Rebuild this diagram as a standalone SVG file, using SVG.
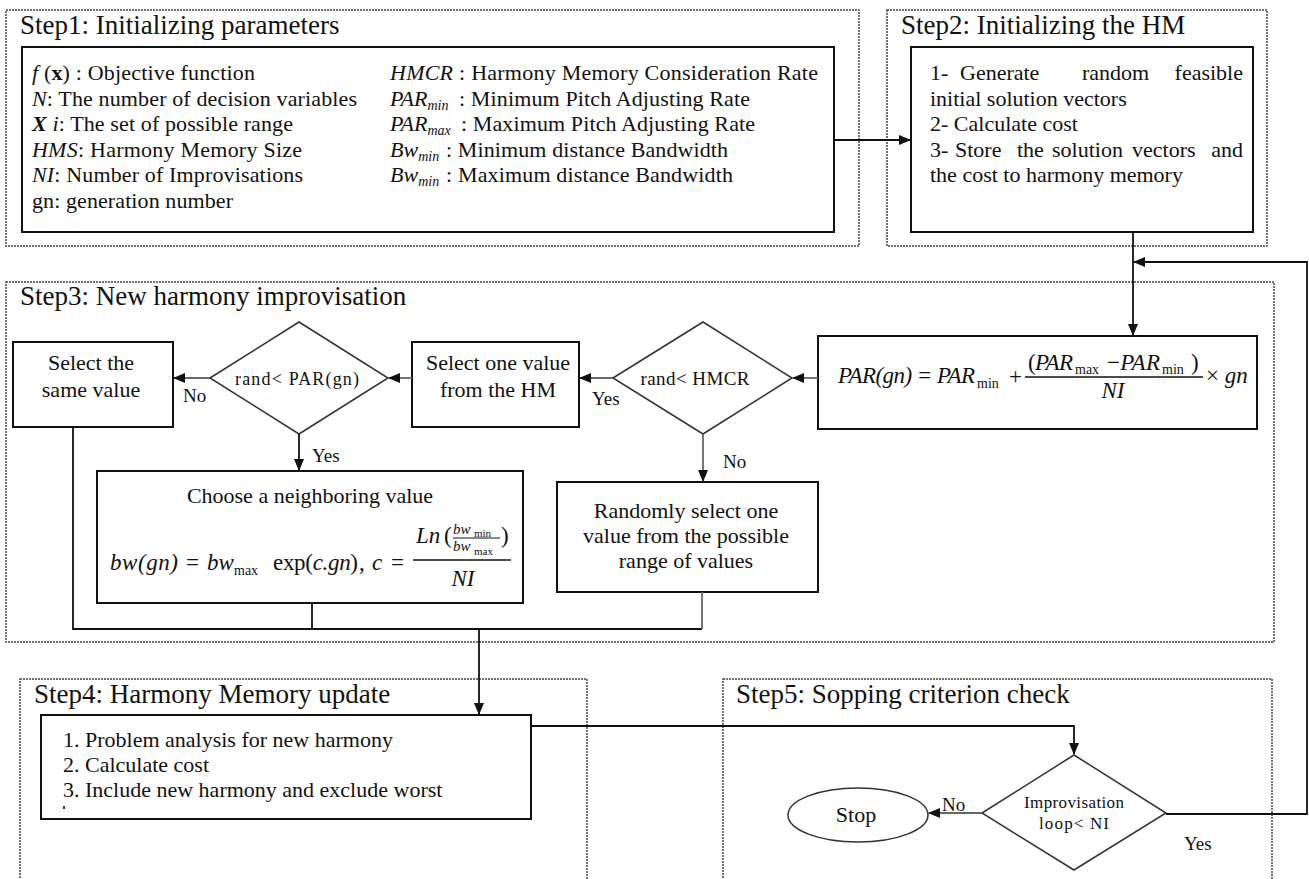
<svg xmlns="http://www.w3.org/2000/svg" width="1309" height="879" viewBox="0 0 1309 879">
<defs>
<style>
text{font-family:"Liberation Serif","Times New Roman",serif;fill:#111}
.title{font-size:27px}
.body{font-size:22px}
.lbl{font-size:19px}
.it{font-style:italic}
.sub{font-size:14px}
.frame{fill:none;stroke:#444;stroke-width:1.5;stroke-dasharray:2 1}
.box{fill:#fff;stroke:#111;stroke-width:2}
.dia{fill:#fff;stroke:#333;stroke-width:1.5}
.conn{fill:none;stroke:#111;stroke-width:1.8}
.gray{stroke:#666}
.c{text-anchor:middle}
</style>
<marker id="ah" markerWidth="12" markerHeight="10" refX="11" refY="5" orient="auto" markerUnits="userSpaceOnUse">
<path d="M0,0 L12,5 L0,10 z" fill="#111"/>
</marker>
</defs>
<rect width="1309" height="879" fill="#fff"/>

<g id="step1">
<rect class="frame" x="6" y="10" width="853" height="236"/>
<text class="title" x="20" y="34">Step1: Initializing parameters</text>
<rect class="box" x="22" y="47" width="812" height="185"/>
<g class="body">
<text x="32" y="80" textLength="223"><tspan class="it">f</tspan> (<tspan font-weight="bold">x</tspan>) : Objective function</text>
<text x="32" y="105.5" textLength="325"><tspan class="it">N</tspan>: The number of decision variables</text>
<text x="32" y="131" textLength="261"><tspan class="it" font-weight="bold">X</tspan><tspan class="it"> i</tspan>: The set of possible range</text>
<text x="32" y="156.5" textLength="270"><tspan class="it">HMS</tspan>: Harmony Memory Size</text>
<text x="32" y="182" textLength="271"><tspan class="it">NI</tspan>: Number of Improvisations</text>
<text x="32" y="207.5" textLength="201">gn: generation number</text>
<text x="390" y="80" textLength="428"><tspan class="it">HMCR</tspan> : Harmony Memory Consideration Rate</text>
<text x="390" y="105.5"><tspan class="it">PAR</tspan><tspan class="it sub" dy="4">min</tspan></text>
<text x="459" y="105.5" textLength="291">: Minimum Pitch Adjusting Rate</text>
<text x="390" y="131"><tspan class="it">PAR</tspan><tspan class="it sub" dy="4">max</tspan></text>
<text x="461" y="131" textLength="294">: Maximum Pitch Adjusting Rate</text>
<text x="390" y="156.5"><tspan class="it">Bw</tspan><tspan class="it sub" dy="4">min</tspan></text>
<text x="446" y="156.5" textLength="282">: Minimum distance Bandwidth</text>
<text x="390" y="182"><tspan class="it">Bw</tspan><tspan class="it sub" dy="4">min</tspan></text>
<text x="446" y="182" textLength="287">: Maximum distance Bandwidth</text>
</g>
</g>

<g id="step2">
<rect class="frame" x="887" y="10" width="380" height="236"/>
<text class="title" x="901" y="34">Step2: Initializing the HM</text>
<rect class="box" x="911" y="47" width="342" height="185"/>
<g class="body">
<text y="80"><tspan x="930">1-</tspan><tspan x="960">Generate</tspan><tspan x="1082">random</tspan></text>
<text y="80" x="1243" text-anchor="end">feasible</text>
<text x="930" y="105.5">initial solution vectors</text>
<text x="930" y="131">2- Calculate cost</text>
<text y="156.5"><tspan x="930">3-</tspan><tspan x="955">Store</tspan><tspan x="1017">the</tspan><tspan x="1052">solution</tspan><tspan x="1132">vectors</tspan></text>
<text y="156.5" x="1243" text-anchor="end">and</text>
<text x="930" y="182">the cost to harmony memory</text>
</g>
</g>

<g id="step3">
<rect class="frame" x="6" y="282" width="1268" height="360"/>
<text class="title" x="20" y="305">Step3: New harmony improvisation</text>
</g>

<g id="node-same">
<rect class="box" x="13" y="342" width="160" height="85"/>
<text class="body c" x="91" y="370">Select the</text>
<text class="body c" x="91" y="397">same value</text>
</g>

<g id="node-pardec">
<polygon class="dia" points="210,378 299,322 388,378 299,434"/>
<text class="c" x="297" y="385" font-size="18" textLength="124">rand&lt; PAR(gn)</text>
</g>

<g id="node-selectone">
<rect class="box" x="412" y="342" width="167" height="85"/>
<text class="body c" x="498" y="370">Select one value</text>
<text class="body c" x="498" y="397">from the HM</text>
</g>

<g id="node-hmcr">
<polygon class="dia" points="613,378 703,322 792,378 703,434"/>
<text class="c" x="695" y="385" font-size="19" textLength="109">rand&lt; HMCR</text>
</g>

<g id="node-par">
<rect class="box" x="818" y="336" width="439" height="93"/>
<g font-size="23">
<text class="it" x="838" y="383" textLength="137">PAR(gn) = PAR</text>
<text class="sub" x="977" y="388">min</text>
<text x="1009" y="384">+</text>
<line x1="1025" y1="377" x2="1203" y2="377" stroke="#111" stroke-width="1.5"/>
<text x="1028" y="370" textLength="45">(<tspan class="it">PAR</tspan></text>
<text class="sub" x="1075" y="374">max</text>
<text x="1107" y="370" textLength="53">−<tspan class="it">PAR</tspan></text>
<text class="sub" x="1162" y="374">min</text>
<text x="1191" y="370">)</text>
<text class="it c" x="1113" y="398">NI</text>
<text x="1206" y="383">× <tspan class="it">gn</tspan></text>
</g>
</g>

<g id="node-neighbor">
<rect class="box" x="97" y="471" width="426" height="132"/>
<text class="body c" x="310" y="503">Choose a neighboring value</text>
<g font-size="23">
<text class="it" x="110" y="570" textLength="68">bw(gn)</text>
<text x="186" y="570">=</text>
<text class="it" x="207" y="570">bw</text>
<text class="sub" x="234" y="575">max</text>
<text x="273" y="570" textLength="85">exp(<tspan class="it">c.gn</tspan>)</text>
<text x="359" y="570">,</text>
<text class="it" x="372" y="570">c</text>
<text x="391" y="570">=</text>
<line x1="413" y1="560" x2="511" y2="560" stroke="#111" stroke-width="1.5"/>
<text class="it" x="416" y="543">Ln</text>
<text x="444" y="543">(</text>
<text class="it" x="453" y="534" font-size="15">bw</text>
<text x="474" y="537" font-size="11">min</text>
<line x1="453" y1="538" x2="500" y2="538" stroke="#111" stroke-width="1"/>
<text class="it" x="453" y="551" font-size="15">bw</text>
<text x="474" y="555" font-size="11">max</text>
<text x="501" y="543">)</text>
<text class="it c" x="463" y="586">NI</text>
</g>
</g>

<g id="node-random">
<rect class="box" x="557" y="482" width="261" height="110"/>
<text class="body c" x="686" y="518">Randomly select one</text>
<text class="body c" x="686" y="543">value from the possible</text>
<text class="body c" x="686" y="568">range of values</text>
</g>

<g id="step4">
<rect class="frame" x="20" y="679" width="567" height="215"/>
<text class="title" x="34" y="703">Step4: Harmony Memory update</text>
<rect class="box" x="41" y="715" width="490" height="104"/>
<text class="body" x="63" y="747">1. Problem analysis for new harmony</text>
<text class="body" x="63" y="772">2. Calculate cost</text>
<text class="body" x="63" y="797">3. Include new harmony and exclude worst</text>
<rect x="63" y="806" width="2" height="3" fill="#333"/>
</g>

<g id="step5">
<rect class="frame" x="723" y="679" width="549" height="215"/>
<text class="title" x="736" y="703">Step5: Sopping criterion check</text>
</g>

<g id="node-stop">
<ellipse cx="858" cy="815" rx="70" ry="27" fill="#fff" stroke="#333" stroke-width="1.5"/>
<text class="body c" x="856" y="822">Stop</text>
</g>

<g id="node-loop">
<polygon class="dia" points="982,813 1074,755 1166,813 1074,870"/>
<text class="c" x="1074" y="808" font-size="17" textLength="100">Improvisation</text>
<text class="c" x="1074" y="829" font-size="17" textLength="70">loop&lt; NI</text>
</g>

<g id="connectors">
<path class="conn" d="M834,140 H910" marker-end="url(#ah)"/>
<path class="conn" d="M1133,232 V335" marker-end="url(#ah)"/>
<path class="conn" d="M1166,814 H1307 V262 H1134" marker-end="url(#ah)"/>
<path class="conn gray" d="M818,378 H793" marker-end="url(#ah)"/>
<path class="conn gray" d="M613,378 H580" marker-end="url(#ah)"/>
<path class="conn gray" d="M412,378 H389" marker-end="url(#ah)"/>
<path class="conn gray" d="M210,378 H174" marker-end="url(#ah)"/>
<path class="conn" d="M299,434 V470" marker-end="url(#ah)"/>
<path class="conn gray" d="M703,434 V481" marker-end="url(#ah)"/>
<path class="conn" d="M73,427 V629 H702"/>
<path class="conn" d="M312,603 V629"/>
<path class="conn gray" d="M702,592 V629"/>
<path class="conn" d="M479,629 V714" marker-end="url(#ah)"/>
<path class="conn" d="M531,726 H1074 V754" marker-end="url(#ah)"/>
<path class="conn gray" d="M982,813 H929" marker-end="url(#ah)"/>
<text class="lbl" x="183" y="402">No</text>
<text class="lbl" x="312" y="462">Yes</text>
<text class="lbl" x="592" y="405">Yes</text>
<text class="lbl" x="723" y="468">No</text>
<text class="lbl" x="942" y="811">No</text>
<text class="lbl" x="1184" y="850">Yes</text>
</g>
</svg>
